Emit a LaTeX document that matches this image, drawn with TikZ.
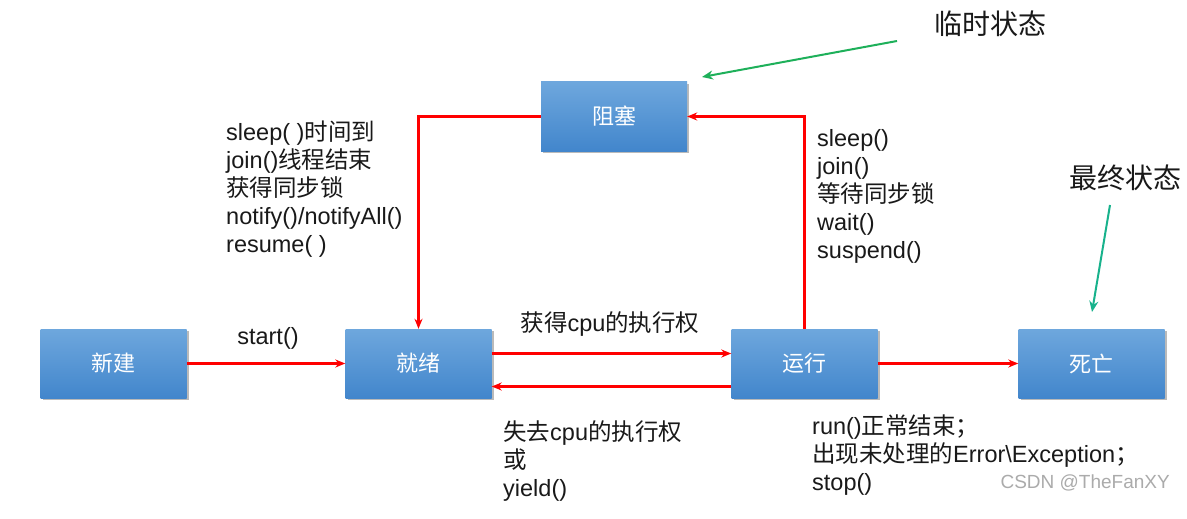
\documentclass[tikz,border=0pt]{standalone}
\usepackage{fontspec}
\setmainfont{Liberation Sans}
\newfontfamily\cjkfont{Noto Sans CJK SC}
\newcommand{\zh}[1]{{\cjkfont #1}}
\usetikzlibrary{shadows, arrows.meta}

\definecolor{boxtop}{RGB}{110,167,221}
\definecolor{boxbottom}{RGB}{66,134,204}
\definecolor{hintgreen}{RGB}{30,176,90}
\definecolor{hintteal}{RGB}{24,178,140}

\begin{document}
\begin{tikzpicture}[x=1pt, y=-1pt,
	state/.style={rectangle, minimum width=146pt, minimum height=69pt, inner sep=0pt,
		top color=boxtop, bottom color=boxbottom, text=white, font=\cjkfont\fontsize{22}{26}\selectfont,
		drop shadow={shadow xshift=2pt, shadow yshift=-2pt, fill=black!45, opacity=.6}},
	trans/.style={draw=red, line width=2.4pt, -{Stealth[length=10pt, width=8pt]}},
	note/.style={inner sep=0pt, align=left, anchor=north west, text=black!90},
	hint/.style={line width=2pt, -{Stealth[length=11pt, width=9pt]}}]

\useasboundingbox [fill=white] (0,0) rectangle (1187,519);

% Els estats
\node [state] (New)		at (113.5, 363.5)	{新建};
\node [state] (Ready)	at (418.5, 363.5)	{就绪};
\node [state] (Run)		at (804.5, 363.5)	{运行};
\node [state] (Dead)	at (1091.5, 363.5)	{死亡};
\node [state] (Block)	at (614, 116.5)		{阻塞};

%%%%%%%%%%%%%%%%%%%%%%%%%%%%%%%%%%%%%%%%%%%%%%%%%%%%%%%%%%%%%%%%%%%%%%%%%%%%%%%%
% Transicions
%%%%%%%%%%%%%%%%%%%%%%%%%%%%%%%%%%%%%%%%%%%%%%%%%%%%%%%%%%%%%%%%%%%%%%%%%%%%%%%%
\draw [trans] (New.east) -- (Ready.west);
\draw [trans] ([yshift=10pt]Ready.east) -- ([yshift=10pt]Run.west);
\draw [trans] ([yshift=-23pt]Run.west) -- ([yshift=-23pt]Ready.east);
\draw [trans] (Run.east) -- (Dead.west);
\draw [trans] (Block.west) -| (Ready.north);
\draw [trans] (Run.north) |- (Block.east);

% Textos de les transicions
\begin{scope}[font=\fontsize{23.5}{28}\selectfont]
\node [note, anchor=center] (StartTxt) at (268, 338) {start()};
\node [note, anchor=center] (GetCpu) at (610, 324) {\zh{获得}cpu\zh{的执行权}};
\node [note] (WakeTxt) at (226, 121) {sleep( )\zh{时间到}\\join()\zh{线程结束}\\\zh{获得同步锁}\\notify()/notifyAll()\\resume( )};
\node [note] (WaitTxt) at (817, 129) {sleep()\\join()\\\zh{等待同步锁}\\wait()\\suspend()};
\node [note] (LoseCpu) at (503, 420) {\zh{失去}cpu\zh{的执行权}\\\zh{或}\\yield()};
\node [note] (EndTxt) at (812, 415) {run()\zh{正常结束；}\\\zh{出现未处理的}Error\textbackslash Exception\zh{；}\\stop()};
\end{scope}

%%%%%%%%%%%%%%%%%%%%%%%%%%%%%%%%%%%%%%%%%%%%%%%%%%%%%%%%%%%%%%%%%%%%%%%%%%%%%%%%
% Indicacions
%%%%%%%%%%%%%%%%%%%%%%%%%%%%%%%%%%%%%%%%%%%%%%%%%%%%%%%%%%%%%%%%%%%%%%%%%%%%%%%%
\node [note, anchor=center, font=\cjkfont\fontsize{28}{32}\selectfont] (TempTxt) at (990, 24) {临时状态};
\node [note, anchor=center, font=\cjkfont\fontsize{28}{32}\selectfont] (FinalTxt) at (1125, 178) {最终状态};
\coordinate (TempFrom) at (897, 41);
\coordinate (TempTo) at (702, 77);
\coordinate (FinalFrom) at (1110, 205);
\coordinate (FinalTo) at (1092, 312);
\draw [hint, draw=hintgreen, fill=hintgreen] (TempFrom) -- (TempTo);
\draw [hint, draw=hintteal, fill=hintteal] (FinalFrom) -- (FinalTo);

\node [note, anchor=east, text=black!33, font=\fontsize{19}{21}\selectfont] (Mark) at (1170, 483) {CSDN @TheFanXY};

\end{tikzpicture}
\end{document}
